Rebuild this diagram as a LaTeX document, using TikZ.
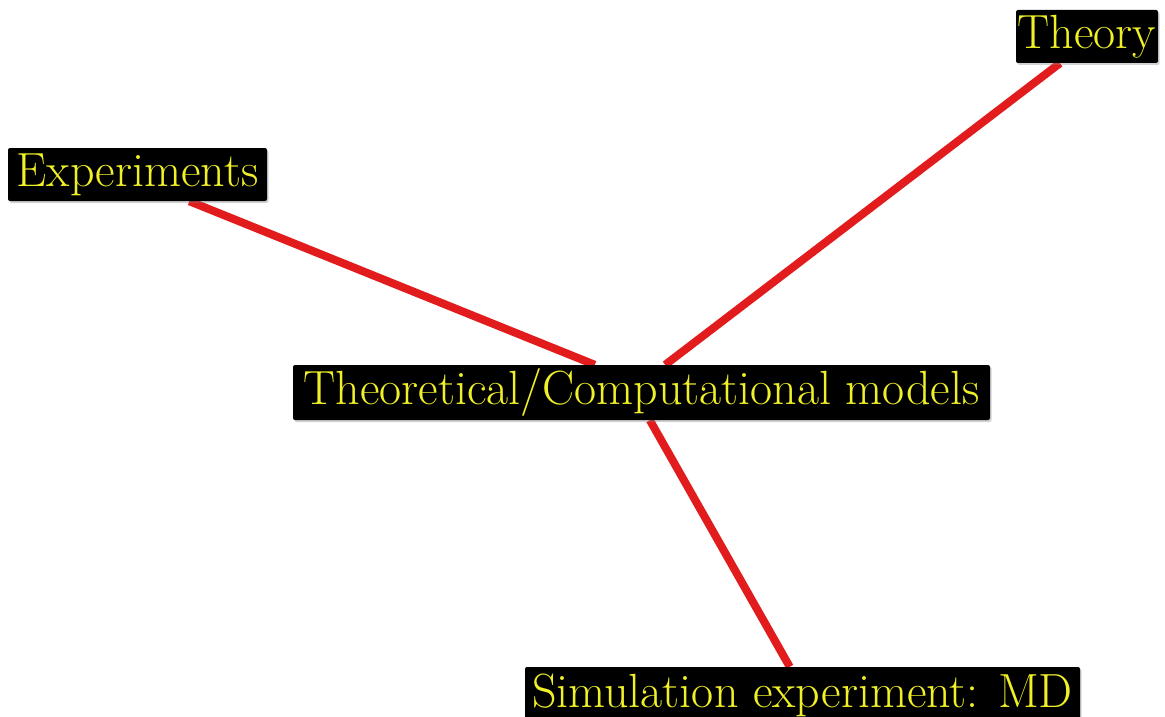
\documentclass[tikz,border=0pt]{standalone}
\usetikzlibrary{calc,backgrounds,shadows}
\definecolor{linkred}{RGB}{226,28,28}
\definecolor{labelyellow}{RGB}{240,240,40}
\tikzset{
  label box/.style={fill=black, text=labelyellow, rounded corners=2pt, inner sep=0pt,
    font=\fontsize{48}{52}\selectfont, align=center,
    drop shadow={opacity=0.35, shadow xshift=1.5pt, shadow yshift=-2pt, fill=gray}},
  link/.style={draw=linkred, line width=8pt}
}
\begin{document}
\begin{tikzpicture}[x=1pt,y=-1pt]
\useasboundingbox (0,0) rectangle (1165,717);
\clip (0,0) rectangle (1165,717);
\node[label box, minimum width=259pt, minimum height=53pt] (exp) at (137.5,174.5) {Experiments};
\node[label box, minimum width=142pt, minimum height=53pt] (theo) at (1087,36.5) {Theory};
\node[label box, minimum width=697pt, minimum height=55pt] (model) at (641.5,392.5) {Theoretical/Computational models};
\node[label box, minimum width=555pt, minimum height=56pt] (sim) at (802.5,695) {Simulation experiment: MD};
\coordinate (e1) at ($(exp.south west)!0.70!(exp.south east)$);
\coordinate (m1) at ($(model.north west)!0.433!(model.north east)$);
\coordinate (t1) at ($(theo.south west)!0.31!(theo.south east)$);
\coordinate (m2) at ($(model.north west)!0.534!(model.north east)$);
\coordinate (m3) at ($(model.south west)!0.512!(model.south east)$);
\coordinate (s1) at ($(sim.north west)!0.477!(sim.north east)$);
\begin{scope}[on background layer]
\fill[white] (0,0) rectangle (1165,717);
\draw[link] (e1) -- (m1);
\draw[link] (t1) -- (m2);
\draw[link] (m3) -- (s1);
\end{scope}
\end{tikzpicture}
\end{document}
